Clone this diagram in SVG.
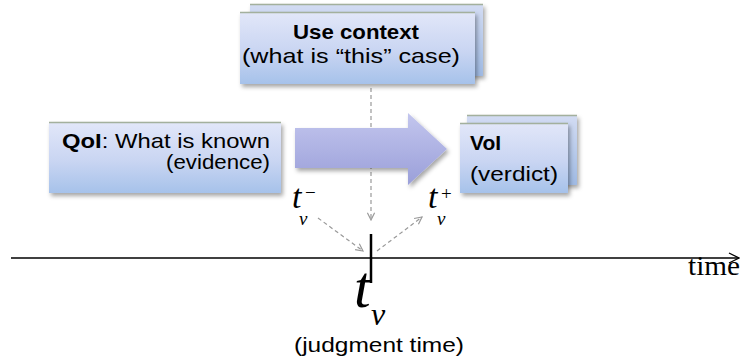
<svg xmlns="http://www.w3.org/2000/svg" width="744" height="362" viewBox="0 0 744 362">
  <defs>
    <linearGradient id="boxFill" x1="0" y1="0" x2="0" y2="1">
      <stop offset="0" stop-color="#e2e7f9"/>
      <stop offset="0.55" stop-color="#c9d5f2"/>
      <stop offset="1" stop-color="#a6c2ea"/>
    </linearGradient>
    <linearGradient id="backFill" x1="0" y1="0" x2="0" y2="1">
      <stop offset="0" stop-color="#d3dcf3"/>
      <stop offset="1" stop-color="#9fbae3"/>
    </linearGradient>
    <linearGradient id="arrowFill" x1="0" y1="0" x2="0" y2="1">
      <stop offset="0" stop-color="#c3c6ee"/>
      <stop offset="1" stop-color="#9a9fd9"/>
    </linearGradient>
    <filter id="shadow" x="-10%" y="-10%" width="125%" height="135%">
      <feDropShadow dx="2" dy="3" stdDeviation="2" flood-color="#000" flood-opacity="0.35"/>
    </filter>
    <marker id="grayHead" viewBox="0 0 10 10" refX="9" refY="5" markerWidth="9" markerHeight="9" markerUnits="userSpaceOnUse" orient="auto">
      <path d="M1,1 L9,5 L1,9" fill="none" stroke="#999" stroke-width="1.3"/>
    </marker>
    <marker id="axisHead" viewBox="0 0 12 12" refX="11" refY="6" markerWidth="12" markerHeight="12" markerUnits="userSpaceOnUse" orient="auto">
      <path d="M1,1 L11,6 L1,11" fill="none" stroke="#000" stroke-width="1.3"/>
    </marker>
  </defs>
  <style>
    .box { fill: url(#boxFill); filter: url(#shadow); }
    .back { fill: url(#backFill); filter: url(#shadow); }
    .edge { stroke: #a3b09d; stroke-width: 1.5; }
    .lbl { font-family: "Liberation Sans", Arial, sans-serif; font-size: 21px; fill: #000; }
    .b { font-weight: bold; }
    .math { font-family: "Liberation Serif", "Times New Roman", serif; font-style: italic; fill: #000; }
    .sym { font-family: "Liberation Serif", "Times New Roman", serif; fill: #000; }
    .dash { stroke: #999; stroke-width: 1.2; stroke-dasharray: 4 3; fill: none; }
  </style>

  <!-- connectors: judgment-time guides, timeline and tick -->
  <g id="connectors">
    <line class="dash" x1="371" y1="88" x2="371" y2="220" marker-end="url(#grayHead)"/>
    <line class="dash" x1="318" y1="218" x2="363" y2="251" marker-end="url(#grayHead)"/>
    <line class="dash" x1="377" y1="251" x2="422" y2="217" marker-end="url(#grayHead)"/>
    <line x1="11" y1="258" x2="739" y2="258" stroke="#000" stroke-width="1.5" marker-end="url(#axisHead)"/>
    <line x1="371" y1="234" x2="371" y2="283" stroke="#000" stroke-width="2.5"/>
  </g>

  <!-- use context card (stacked) -->
  <g id="use-context">
    <rect class="back" x="250" y="4" width="233" height="72"/>
    <line class="edge" x1="250" y1="4.5" x2="483" y2="4.5"/>
    <rect class="box" x="240" y="12" width="235" height="72"/>
    <line class="edge" x1="240" y1="12.5" x2="475" y2="12.5"/>
    <text class="lbl b" x="356" y="39" text-anchor="middle" textLength="126" lengthAdjust="spacingAndGlyphs">Use context</text>
    <text class="lbl" x="351" y="63" text-anchor="middle" textLength="218" lengthAdjust="spacingAndGlyphs">(what is “this” case)</text>
  </g>

  <!-- question of interest -->
  <g id="qoi">
    <rect class="box" x="49" y="122" width="232" height="71"/>
    <line class="edge" x1="49" y1="122.5" x2="281" y2="122.5"/>
    <text class="lbl" x="270" y="148" text-anchor="end" textLength="208" lengthAdjust="spacingAndGlyphs"><tspan class="b">QoI</tspan>: What is known</text>
    <text class="lbl" x="270" y="169" text-anchor="end" textLength="104" lengthAdjust="spacingAndGlyphs">(evidence)</text>
  </g>

  <!-- block arrow from evidence to verdict -->
  <g id="flow-arrow">
    <path d="M295,128 L408,128 L408,113 L447,149 L408,185 L408,168 L295,168 Z" fill="url(#arrowFill)" filter="url(#shadow)"/>
  </g>

  <!-- verdict card (stacked) -->
  <g id="voi">
    <rect class="back" x="467" y="115" width="110" height="70"/>
    <line class="edge" x1="467" y1="115.5" x2="577" y2="115.5"/>
    <rect class="box" x="460" y="123" width="108" height="70"/>
    <line class="edge" x1="460" y1="123.5" x2="568" y2="123.5"/>
    <text class="lbl b" x="470" y="150">VoI</text>
    <text class="lbl" x="470" y="181" textLength="88" lengthAdjust="spacingAndGlyphs">(verdict)</text>
  </g>

  <!-- time labels -->
  <g id="t-minus">
    <text class="math" x="292" y="208" font-size="34">t</text>
    <text class="sym" x="305" y="199" font-size="19">−</text>
    <text class="math" x="299" y="225" font-size="19">v</text>
  </g>
  <g id="t-plus">
    <text class="math" x="428" y="208" font-size="34">t</text>
    <text class="sym" x="441" y="200" font-size="19">+</text>
    <text class="math" x="437" y="225" font-size="19">v</text>
  </g>
  <g id="t-judgment">
    <text class="math" x="354" y="307" font-size="60">t</text>
    <text class="math" x="371" y="325" font-size="32">v</text>
    <text class="lbl" x="379" y="352" text-anchor="middle" textLength="170" lengthAdjust="spacingAndGlyphs">(judgment time)</text>
  </g>
  <g id="axis-label">
    <text x="688" y="275" font-family="Liberation Serif, 'Times New Roman', serif" font-size="27" textLength="52" lengthAdjust="spacingAndGlyphs">time</text>
  </g>
</svg>
